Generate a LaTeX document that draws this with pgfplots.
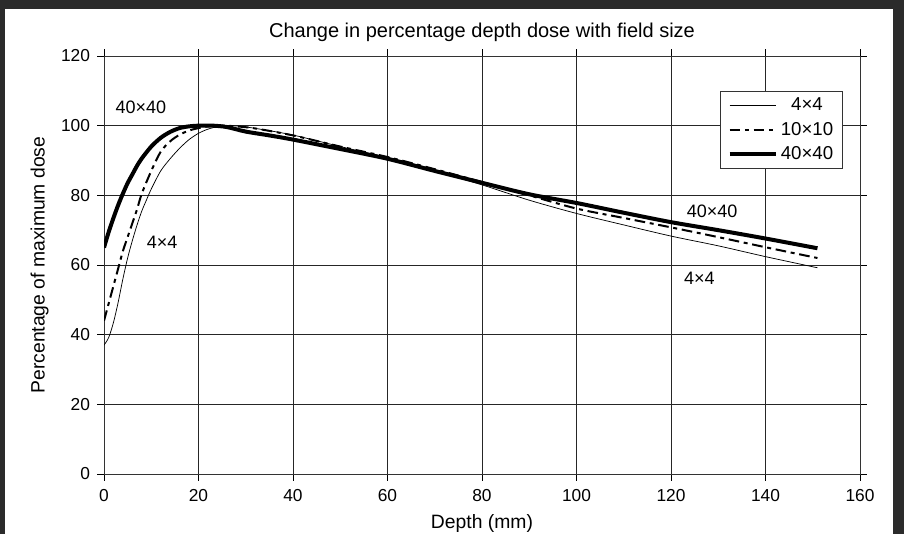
\documentclass[border=0pt]{standalone}
\usepackage{pgfplots}
\pgfplotsset{compat=1.18}
\usepackage{fontspec}
\setmainfont{Liberation Sans}

\definecolor{framegray}{HTML}{2B2B2B}

\begin{document}
\begin{tikzpicture}
  % page frame
  \path[use as bounding box] (0,0) rectangle (678pt,400.5pt);
  \fill[framegray] (0,0) rectangle (678pt,400.5pt);
  \fill[white] (3.8pt,0) rectangle (670pt,393.8pt);

  \begin{axis}[
    at={(78pt,45pt)}, anchor=south west,
    scale only axis, width=567pt, height=313.5pt,
    xmin=0, xmax=160, ymin=0, ymax=120,
    xtick={0,20,...,160}, ytick={0,20,...,120},
    tick align=outside, major tick length=5pt,
    tick style={black, line width=0.6pt},
    axis line style={black!80, line width=0.7pt},
    grid=major,
    major grid style={black!85, line width=0.6pt},
    /pgf/number format/assume math mode=true,
    tick label style={font=\fontsize{13}{15}\selectfont},
    yticklabel style={xshift=-2pt},
    xticklabel style={yshift=-3pt},
    title={Change in percentage depth dose with field size},
    title style={font=\fontsize{15}{17}\selectfont, at={(axis description cs:0.5,1)}, anchor=south, yshift=1pt},
    xlabel={Depth (mm)},
    ylabel={Percentage of maximum dose},
    label style={font=\fontsize{14.5}{17}\selectfont},
    xlabel style={at={(axis description cs:0.5,0)}, anchor=center, yshift=-37pt},
    ylabel style={at={(axis description cs:-0.085,0.5)}, anchor=center},
    legend style={at={(axis cs:156.4,110)}, anchor=north east,
      draw=black!80, line width=0.6pt,
      font=\fontsize{14}{16}\selectfont,
      inner xsep=5pt, inner ysep=3pt, row sep=3pt},
    legend cell align=center,
    legend image code/.code={\draw[#1] (0pt,0pt) -- (35pt,0pt);},
  ]

  % 4 x 4 field
  \addplot[black, line width=0.55pt, smooth] coordinates {
    (0,37) (1,39.2) (2,43.5) (3,49.3) (4,56) (5,62) (6,67) (7,71.5) (8,75.5)
    (9,78.7) (10,81.8) (12,87) (14,90.5) (16,93.5) (18,96) (20,97.8)
    (22,99) (24,99.7) (26,100) (29,99.8) (33,99) (40,97.3) (50,94)
    (60,90.8) (70,87) (80,83) (90,78.6) (100,74.8) (110,71.5) (120,68.3)
    (130,65.5) (140,62.4) (151,59.2)
  };
  \addlegendentry{4×4}

  % 10 x 10 field
  \addplot[black, line width=1.5pt, smooth,
           dash pattern=on 8pt off 3.5pt on 3pt off 3.5pt] coordinates {
    (0,44) (1,49) (2,54) (3,59) (4,64) (5,68) (6,72) (7,76) (8,80.5)
    (10,87) (12,92.5) (14,95.5) (16,97.4) (18,98.6) (20,99.3) (22,99.8)
    (25,100) (28,99.8) (32,99.2) (40,97.2) (50,94) (60,91) (70,87.5)
    (80,83.8) (90,80) (100,76.2) (110,73.5) (120,70.8) (130,68) (140,65.1)
    (151,62)
  };
  \addlegendentry{10×10}

  % 40 x 40 field
  \addplot[black, line width=3pt, smooth] coordinates {
    (0,65) (1,69.5) (2,73.5) (3,77.2) (4,80.5) (5,83.5) (6,86) (7,88.5)
    (8,90.6) (10,94) (12,96.5) (14,98.2) (16,99.3) (18,99.8) (20,100)
    (23,100) (26,99.6) (30,98.3) (35,97.2) (40,96) (50,93.3) (60,90.5)
    (70,87) (80,83.6) (90,80.3) (100,77.8) (110,75) (120,72.3) (130,70)
    (140,67.6) (151,64.8)
  };
  \addlegendentry{40×40}

  % curve annotations
  \node[font=\fontsize{13.5}{16}\selectfont] at (axis cs:7.8,105.4) {40×40};
  \node[font=\fontsize{13.5}{16}\selectfont] at (axis cs:12.3,66.6) {4×4};
  \node[font=\fontsize{13.5}{16}\selectfont] at (axis cs:128.7,75.5) {40×40};
  \node[font=\fontsize{13.5}{16}\selectfont] at (axis cs:126,56.3) {4×4};
  \end{axis}
\end{tikzpicture}
\end{document}
